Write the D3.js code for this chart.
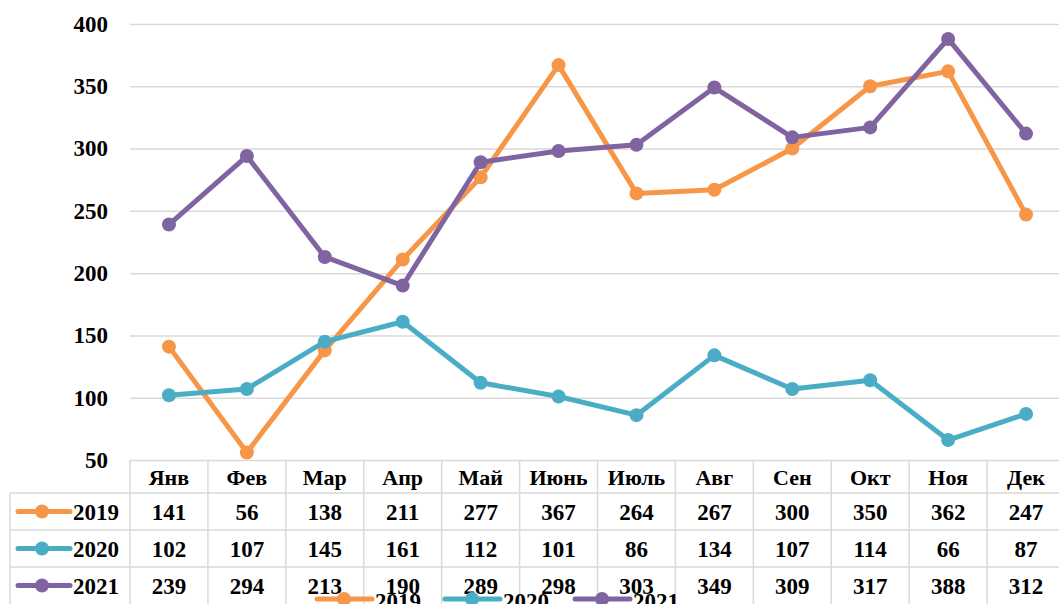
<!DOCTYPE html>
<html lang="ru">
<head>
<meta charset="utf-8">
<script src="https://cdnjs.cloudflare.com/ajax/libs/d3/7.8.5/d3.min.js"></script>
<style>
  body { margin: 0; background: #fff; }
  svg { display: block; font-family: "Liberation Serif", "Times New Roman", serif; font-weight: bold; }
  .grid line { stroke: #d9d9d9; stroke-width: 1.5; }
  .grid .domain { display: none; }
</style>
</head>
<body>
<svg id="chart" width="1059" height="604"></svg>
<script>
// data
var months = ["Янв", "Фев", "Мар", "Апр", "Май", "Июнь", "Июль", "Авг", "Сен", "Окт", "Ноя", "Дек"];
var years = ["2019", "2020", "2021"];
var v2019 = [141, 56, 138, 211, 277, 367, 264, 267, 300, 350, 362, 247];
var v2020 = [102, 107, 145, 161, 112, 101, 86, 134, 107, 114, 66, 87];
var v2021 = [239, 294, 213, 190, 289, 298, 303, 349, 309, 317, 388, 312];
var yTicks = [50, 100, 150, 200, 250, 300, 350, 400];
var colors = ["#F79646", "#4BACC6", "#8064A2"];

var series = [v2019, v2020, v2021];

var svg = d3.select("#chart");
// plot box (note: "top" is reserved on window, so use plotTop etc.)
var plotLeft = 130, plotRight = 1065, plotTop = 24, plotBottom = 460;
var rowH = 37, headH = 33, tableLeft = 10;

var x = d3.scaleBand().domain(months).range([plotLeft, plotRight]);
var y = d3.scaleLinear().domain([50, 400]).range([plotBottom, plotTop]);

// gridlines + y labels
var grid = svg.append("g").attr("class", "grid")
  .attr("transform", "translate(" + plotLeft + ",0)")
  .call(d3.axisLeft(y).tickValues(yTicks).tickSize(-(plotRight - plotLeft)).tickPadding(22));
grid.selectAll("text")
  .attr("fill", "#000")
  .style("font-size", "23px")
  .style("font-family", "Liberation Serif, serif")
  .style("font-weight", "bold");

// data table
var tbl = svg.append("g");
var tableBottom = plotBottom + headH + rowH * 3;
// vertical borders
x.domain().forEach(function (m) {
  tbl.append("line")
    .attr("x1", x(m)).attr("x2", x(m))
    .attr("y1", plotBottom).attr("y2", tableBottom)
    .attr("stroke", "#d9d9d9").attr("stroke-width", 1.5);
});
tbl.append("line")
  .attr("x1", tableLeft).attr("x2", tableLeft)
  .attr("y1", plotBottom + headH).attr("y2", tableBottom)
  .attr("stroke", "#d9d9d9").attr("stroke-width", 1.5);
// horizontal borders
for (var r = 0; r < 3; r++) {
  tbl.append("line")
    .attr("x1", tableLeft).attr("x2", plotRight)
    .attr("y1", plotBottom + headH + r * rowH).attr("y2", plotBottom + headH + r * rowH)
    .attr("stroke", "#d9d9d9").attr("stroke-width", 1.5);
}

// header labels
tbl.selectAll(".head").data(months).enter().append("text")
  .attr("x", function (d) { return x(d) + x.bandwidth() / 2; })
  .attr("y", plotBottom + headH / 2 + 1)
  .attr("text-anchor", "middle").attr("dominant-baseline", "central")
  .style("font-size", "22px")
  .text(function (d) { return d; });

// rows
series.forEach(function (vals, si) {
  var cy = plotBottom + headH + si * rowH + rowH / 2 + 1;
  tbl.selectAll(".cell" + si).data(vals).enter().append("text")
    .attr("x", function (d, i) { return x(months[i]) + x.bandwidth() / 2; })
    .attr("y", cy)
    .attr("text-anchor", "middle").attr("dominant-baseline", "central")
    .style("font-size", "23px")
    .text(function (d) { return d; });
  // legend key inside table
  tbl.append("line")
    .attr("x1", 18).attr("x2", 70).attr("y1", cy - 1).attr("y2", cy - 1)
    .attr("stroke", colors[si]).attr("stroke-width", 5).attr("stroke-linecap", "round");
  tbl.append("circle").attr("cx", 42).attr("cy", cy - 1).attr("r", 7).attr("fill", colors[si]);
  tbl.append("text")
    .attr("x", 73).attr("y", cy)
    .attr("dominant-baseline", "central")
    .style("font-size", "23px")
    .text(years[si]);
});

// lines
var line = d3.line()
  .x(function (d, i) { return x(months[i]) + x.bandwidth() / 2; })
  .y(function (d) { return y(d); });

series.forEach(function (vals, si) {
  var g = svg.append("g");
  g.append("path").datum(vals)
    .attr("d", line)
    .attr("fill", "none")
    .attr("stroke", colors[si])
    .attr("stroke-width", 5)
    .attr("stroke-linejoin", "round");
  g.selectAll("circle").data(vals).enter().append("circle")
    .attr("cx", function (d, i) { return x(months[i]) + x.bandwidth() / 2; })
    .attr("cy", function (d) { return y(d); })
    .attr("r", 7)
    .attr("fill", colors[si]);
});

// bottom legend (partly cut off)
var legX = [317, 445, 575];
years.forEach(function (yr, i) {
  var lg = svg.append("g");
  lg.append("line")
    .attr("x1", legX[i]).attr("x2", legX[i] + 55)
    .attr("y1", 599).attr("y2", 599)
    .attr("stroke", colors[i]).attr("stroke-width", 5).attr("stroke-linecap", "round");
  lg.append("circle").attr("cx", legX[i] + 27).attr("cy", 599).attr("r", 7).attr("fill", colors[i]);
  lg.append("text")
    .attr("x", legX[i] + 58).attr("y", 609)
    .style("font-size", "23px")
    .text(yr);
});
</script>
</body>
</html>
